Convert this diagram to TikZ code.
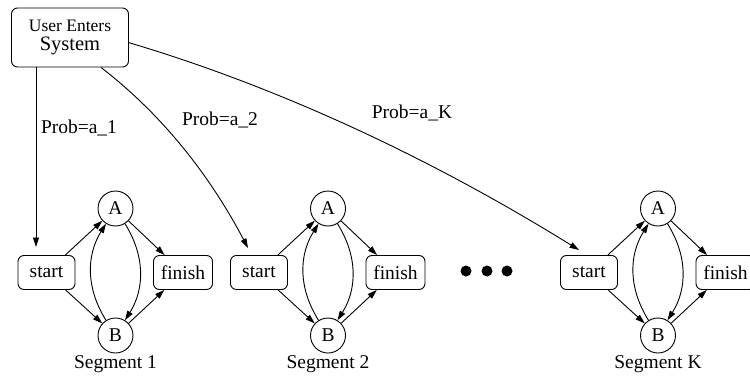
\documentclass[tikz,border=0pt]{standalone}
\usepackage{fontspec}
\setmainfont{Liberation Serif}
\usetikzlibrary{arrows.meta,calc}
\tikzset{
  lbl/.style={font=\fontsize{19.5}{19.5}\selectfont, inner sep=0pt},
  rbox/.style={draw, rounded corners=6pt, line width=0.9pt, minimum height=34pt, inner sep=0pt, font=\fontsize{19.5}{19.5}\selectfont},
  st/.style={circle, draw, line width=0.9pt, minimum size=35pt, inner sep=0pt, font=\fontsize{19.5}{19.5}\selectfont},
  conn/.style={line width=0.9pt, -{Triangle[length=9.5pt,width=6pt]}},
  dot/.style={circle, fill=black, minimum size=11pt, inner sep=0pt}
}
\begin{document}
\begin{tikzpicture}[x=1pt,y=-1pt]
\useasboundingbox (0,0) rectangle (750,380);
\node[rbox, minimum width=117pt, minimum height=59pt, align=center] (u) at (70,37.5)
  {\fontsize{17.5}{18}\selectfont User Enters\\[-1pt]\fontsize{20.5}{20.5}\selectfont System};

\foreach \n/\x/\t in {1/115.5/1, 2/328/2, K/658/K}{
  \node[rbox, minimum width=57pt] (s\n) at (\x-69,272.5) {start};
  \node[rbox, minimum width=59pt] (f\n) at (\x+67.5,272.5) {finish};
  \node[st] (a\n) at (\x,208.5) {A};
  \node[st] (b\n) at (\x,335.5) {B};
  \node[lbl] (g\n) at (\x,364) {Segment \t};
  \draw[conn] (s\n) -- (a\n);
  \draw[conn] (s\n) -- (b\n);
  \draw[conn] (a\n) -- (f\n);
  \draw[conn] (b\n) -- (f\n);
  \draw[conn] (b\n) to[bend left=32] (a\n);
  \draw[conn] (a\n) to[bend left=32] (b\n);
}

\node[dot] (d1) at (466,271) {};
\node[dot] (d2) at (487,271) {};
\node[dot] (d3) at (507,271) {};

\coordinate (e1) at (36,247);
\coordinate (e2) at (248,248);
\coordinate (eK) at (579,250);
\draw[conn] (u.south -| e1) -- (e1);
\draw[conn] (u.-44) .. controls (160,113) and (208,172) .. (e2);
\draw[conn] (u.-5) .. controls (278,87) and (429,157) .. (eK);

\node[lbl] (p1) at (79,128) {Prob=a\_1};
\node[lbl] (p2) at (220,120) {Prob=a\_2};
\node[lbl] (pK) at (412,113) {Prob=a\_K};
\end{tikzpicture}
\end{document}
